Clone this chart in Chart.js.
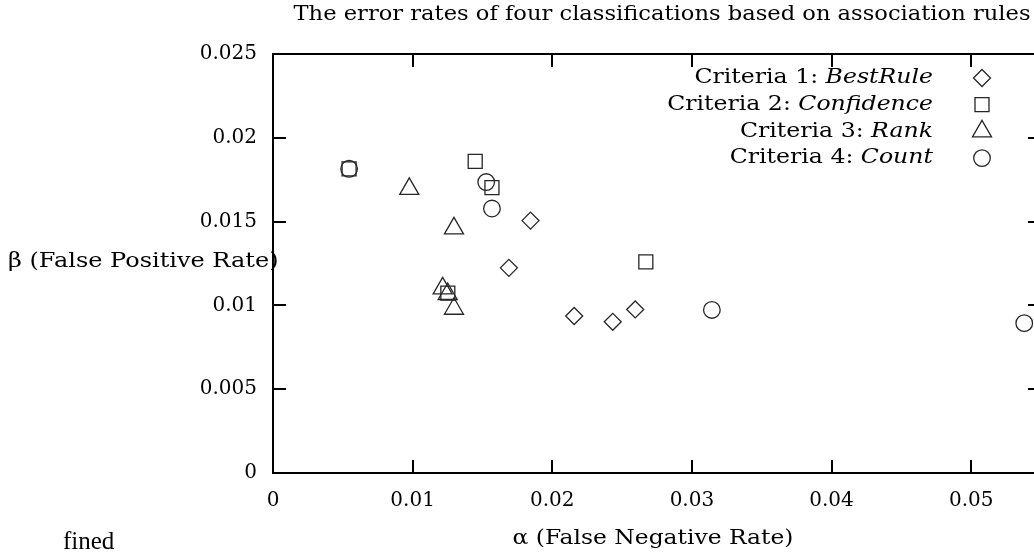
<!DOCTYPE html>
<html><head><meta charset="utf-8">
<script src="https://cdn.jsdelivr.net/npm/chart.js@4.4.0/dist/chart.umd.min.js"></script>
<style>
html,body{margin:0;padding:0;overflow:hidden;background:#fff;width:1034px;height:554px}
#wrap{position:absolute;left:0;top:0;width:1060px;height:554px}
</style>
</head><body><div id="wrap"><canvas id="c" width="1060" height="554"></canvas></div>
<script>
// ---- texts ----
const titleText = 'The error rates of four classifications based on association rules';
const xAxisTitle = 'α (False Negative Rate)';
const yAxisTitle = 'β (False Positive Rate)';
const strayText = 'fined';
const seriesPrefixes = ['Criteria 1: ', 'Criteria 2: ', 'Criteria 3: ', 'Criteria 4: '];
const seriesNames = ['BestRule', 'Confidence', 'Rank', 'Count'];

// ---- data (alpha = x, beta = y) ----
const bestRuleX   = [0.01844, 0.01689, 0.02157, 0.02433, 0.02594];
const bestRuleY   = [0.01506, 0.01224, 0.00937, 0.00902, 0.00976];
const confidenceX = [0.00545, 0.01448, 0.01568, 0.01252, 0.02670];
const confidenceY = [0.01815, 0.01859, 0.01703, 0.01073, 0.01260];
const rankX       = [0.00976, 0.01296, 0.01215, 0.01251, 0.01296];
const rankY       = [0.01695, 0.01460, 0.01102, 0.01068, 0.00980];
const countX      = [0.00545, 0.01527, 0.01568, 0.03143, 0.05380];
const countY      = [0.01815, 0.01736, 0.01578, 0.00973, 0.00894];

// ---- ticks ----
const xTickLabels = ['0', '0.01', '0.02', '0.03', '0.04', '0.05'];
const yTickLabels = ['0', '0.005', '0.01', '0.015', '0.02', '0.025'];

const SERIF = '"DejaVu Serif", serif';
const pts = (xs, ys) => xs.map((v, i) => ({x: v, y: ys[i]}));
const styles = [
  {pointStyle: 'rectRot', pointRadius: 8.5},
  {pointStyle: 'rect', pointRadius: 9.9},
  {pointStyle: 'triangle', pointRadius: 11},
  {pointStyle: 'circle', pointRadius: 8.3}
];
const seriesData = [pts(bestRuleX, bestRuleY), pts(confidenceX, confidenceY), pts(rankX, rankY), pts(countX, countY)];

const datasets = seriesData.map((d, i) => ({
  label: seriesPrefixes[i] + seriesNames[i],
  data: d,
  pointStyle: styles[i].pointStyle,
  pointRadius: styles[i].pointRadius,
  pointHoverRadius: styles[i].pointRadius,
  borderColor: '#262626',
  backgroundColor: 'rgba(0,0,0,0)',
  pointBorderWidth: 1.3,
  borderWidth: 1.3,
  showLine: false
}));

function sText(ctx, text, x, y, align, sx) {
  ctx.save();
  ctx.translate(x, y);
  ctx.scale(sx, 1);
  ctx.textAlign = align;
  ctx.fillText(text, 0, 0);
  ctx.restore();
}

const frame = {
  id: 'frame',
  beforeDatasetsDraw(chart) {
    const {ctx, chartArea: a, scales: {x, y}} = chart;
    ctx.save();
    ctx.strokeStyle = '#000';
    ctx.lineWidth = 2;
    ctx.strokeRect(a.left, a.top, a.right - a.left, a.bottom - a.top);
    const L = 13;
    ctx.beginPath();
    x.ticks.forEach(t => {
      const p = Math.round(x.getPixelForValue(t.value));
      ctx.moveTo(p, a.bottom); ctx.lineTo(p, a.bottom - L);
      ctx.moveTo(p, a.top); ctx.lineTo(p, a.top + L);
    });
    y.ticks.forEach(t => {
      const p = Math.round(y.getPixelForValue(t.value));
      ctx.moveTo(a.left, p); ctx.lineTo(a.left + L, p);
      ctx.moveTo(a.right, p); ctx.lineTo(a.right - L, p);
    });
    ctx.stroke();
    ctx.restore();
  },
  afterDraw(chart) {
    const ctx = chart.ctx;
    ctx.save();
    ctx.fillStyle = '#000';
    ctx.textBaseline = 'middle';
    ctx.font = '20px ' + SERIF;
    sText(ctx, titleText, 662, 15, 'center', 1.13);
    sText(ctx, xAxisTitle, 653, 539, 'center', 1.17);
    sText(ctx, yAxisTitle, 8, 262, 'left', 1.2);
    ctx.font = '25px "Liberation Serif", serif';
    ctx.textBaseline = 'alphabetic';
    ctx.textAlign = 'left';
    ctx.fillText(strayText, 63, 549);
    // legend
    const SX = 1.18;
    ctx.textBaseline = 'middle';
    chart.data.datasets.forEach((ds, i) => {
      const yy = 78 + i * 26.7;
      ctx.font = 'italic 20px ' + SERIF;
      const w = ctx.measureText(seriesNames[i]).width * SX;
      ctx.fillStyle = '#000';
      sText(ctx, seriesNames[i], 933, yy, 'right', SX);
      ctx.font = '20px ' + SERIF;
      sText(ctx, seriesPrefixes[i], 933 - w, yy, 'right', SX);
      ctx.save();
      ctx.strokeStyle = ds.borderColor;
      ctx.fillStyle = 'rgba(0,0,0,0)';
      ctx.lineWidth = ds.pointBorderWidth;
      Chart.helpers.drawPoint(ctx, {pointStyle: ds.pointStyle, radius: ds.pointRadius, borderWidth: ds.pointBorderWidth, rotation: 0}, 982, yy);
      ctx.restore();
    });
    ctx.restore();
  }
};

new Chart(document.getElementById('c'), {
  type: 'scatter',
  data: {datasets},
  options: {
    responsive: false,
    animation: false,
    devicePixelRatio: 1,
    layout: {padding: {left: 0, right: 19, top: 54, bottom: 0}},
    plugins: {legend: {display: false}, title: {display: false}, tooltip: {enabled: false}},
    scales: {
      x: {
        type: 'linear', min: 0, max: 0.055,
        grid: {display: false, drawTicks: false},
        border: {display: false},
        ticks: {stepSize: 0.01, includeBounds: false, autoSkip: false, maxRotation: 0, padding: 16,
          color: '#000', font: {family: SERIF, size: 20},
          callback: (v, i) => xTickLabels[i]},
        afterFit: s => { s.height = 81; }
      },
      y: {
        type: 'linear', min: 0, max: 0.025,
        grid: {display: false, drawTicks: false},
        border: {display: false},
        ticks: {stepSize: 0.005, includeBounds: false, autoSkip: false, padding: 16,
          color: '#000', font: {family: SERIF, size: 20},
          callback: (v, i) => yTickLabels[i]},
        afterFit: s => { s.width = 273; }
      }
    }
  },
  plugins: [frame]
});
</script>
</body></html>
